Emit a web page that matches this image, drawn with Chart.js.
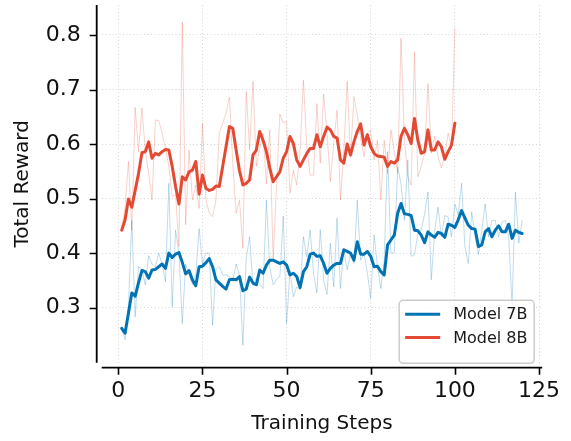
<!DOCTYPE html>
<html>
<head>
<meta charset="utf-8">
<script src="https://cdn.jsdelivr.net/npm/chart.js@4.4.1/dist/chart.umd.min.js"></script>
<style>
  html, body { margin: 0; padding: 0; background: #fff; }
  #wrap { width: 571px; height: 441px; }
</style>
</head>
<body>
<div id="wrap"><canvas id="rewardChart" width="571" height="441"></canvas></div>
<script>
// tick labels
const xTicks = [0, 25, 50, 75, 100, 125];
const yTicks = [0.3, 0.4, 0.5, 0.6, 0.7, 0.8];
const seriesNames = ['Model 7B', 'Model 8B'];

// Model 7B, steps 1..120 (raw reward and smoothed curve)
const raw7B = [
  0.262, 0.241, 0.30, 0.46, 0.283, 0.375, 0.37, 0.342, 0.395, 0.38,
  0.375, 0.40, 0.38, 0.347, 0.528, 0.302, 0.442, 0.40, 0.271, 0.38,
  0.36, 0.342, 0.36, 0.445, 0.38, 0.40, 0.40, 0.268, 0.37, 0.375,
  0.36, 0.36, 0.357, 0.348, 0.38, 0.36, 0.231, 0.39, 0.43, 0.34,
  0.355, 0.343, 0.335, 0.497, 0.375, 0.342, 0.352, 0.357, 0.468, 0.271,
  0.367, 0.32, 0.338, 0.332, 0.43, 0.393, 0.442, 0.363, 0.327, 0.443,
  0.351, 0.324, 0.418, 0.338, 0.464, 0.335, 0.408, 0.369, 0.399, 0.381,
  0.497, 0.387, 0.399, 0.363, 0.317, 0.433, 0.375, 0.335, 0.387, 0.586,
  0.40, 0.40, 0.558, 0.527, 0.46, 0.571, 0.394, 0.397, 0.436, 0.442,
  0.472, 0.512, 0.351, 0.442, 0.484, 0.43, 0.469, 0.466, 0.43, 0.49,
  0.47, 0.528, 0.41, 0.381, 0.476, 0.433, 0.397, 0.442, 0.49, 0.43,
  0.46, 0.46, 0.43, 0.457, 0.46, 0.43, 0.305, 0.512, 0.418, 0.46
];
const smooth7B = [
  0.262, 0.253, 0.29, 0.327, 0.321, 0.346, 0.368, 0.366, 0.354, 0.369,
  0.370, 0.375, 0.38, 0.372, 0.40, 0.392, 0.398, 0.401, 0.383, 0.362,
  0.368, 0.351, 0.340, 0.375, 0.376, 0.382, 0.39, 0.375, 0.351, 0.345,
  0.339, 0.334, 0.351, 0.352, 0.351, 0.357, 0.331, 0.334, 0.356, 0.345,
  0.342, 0.369, 0.363, 0.378, 0.387, 0.387, 0.384, 0.381, 0.384, 0.378,
  0.36, 0.363, 0.357, 0.337, 0.366, 0.375, 0.398, 0.40, 0.394, 0.395,
  0.381, 0.363, 0.372, 0.378, 0.381, 0.381, 0.406, 0.403, 0.40, 0.387,
  0.421, 0.398, 0.398, 0.403, 0.394, 0.375, 0.376, 0.366, 0.36, 0.415,
  0.424, 0.433, 0.473, 0.491, 0.472, 0.471, 0.469, 0.442, 0.441, 0.433,
  0.419, 0.439, 0.433, 0.429, 0.438, 0.436, 0.429, 0.453, 0.451, 0.447,
  0.461, 0.478, 0.464, 0.451, 0.445, 0.444, 0.412, 0.415, 0.439, 0.445,
  0.430, 0.442, 0.450, 0.439, 0.439, 0.453, 0.427, 0.442, 0.438, 0.436
];

// Model 8B, steps 1..100
const raw8B = [
  0.442, 0.485, 0.568, 0.442, 0.667, 0.586, 0.666, 0.589, 0.546, 0.497,
  0.644, 0.643, 0.62, 0.592, 0.559, 0.504, 0.507, 0.412, 0.824, 0.452,
  0.589, 0.497, 0.525, 0.482, 0.638, 0.498, 0.473, 0.467, 0.497, 0.62,
  0.638, 0.656, 0.686, 0.565, 0.473, 0.497, 0.409, 0.696, 0.589, 0.715,
  0.559, 0.592, 0.62, 0.527, 0.626, 0.387, 0.525, 0.655, 0.638, 0.641,
  0.51, 0.552, 0.525, 0.589, 0.717, 0.595, 0.543, 0.543, 0.674, 0.565,
  0.692, 0.62, 0.531, 0.601, 0.662, 0.497, 0.589, 0.715, 0.577, 0.687,
  0.653, 0.611, 0.577, 0.62, 0.626, 0.571, 0.607, 0.497, 0.607, 0.546,
  0.626, 0.586, 0.546, 0.794, 0.61, 0.54, 0.525, 0.769, 0.54, 0.559,
  0.583, 0.711, 0.583, 0.614, 0.577, 0.556, 0.577, 0.62, 0.592, 0.812
];
const smooth8B = [
  0.442, 0.461, 0.499, 0.484, 0.515, 0.546, 0.584, 0.586, 0.604, 0.574,
  0.583, 0.58, 0.586, 0.59, 0.589, 0.559, 0.522, 0.49, 0.54, 0.534,
  0.549, 0.552, 0.568, 0.508, 0.543, 0.519, 0.515, 0.517, 0.523, 0.522,
  0.559, 0.595, 0.632, 0.629, 0.589, 0.551, 0.525, 0.528, 0.534, 0.58,
  0.589, 0.623, 0.607, 0.586, 0.556, 0.531, 0.54, 0.549, 0.574, 0.586,
  0.614, 0.601, 0.571, 0.559, 0.571, 0.583, 0.592, 0.592, 0.617, 0.595,
  0.614, 0.631, 0.626, 0.614, 0.611, 0.571, 0.565, 0.60, 0.58, 0.604,
  0.623, 0.637, 0.598, 0.617, 0.595, 0.583, 0.578, 0.577, 0.576, 0.559,
  0.568, 0.565, 0.571, 0.614, 0.629, 0.617, 0.601, 0.647, 0.607, 0.583,
  0.586, 0.626, 0.589, 0.589, 0.604, 0.595, 0.572, 0.586, 0.598, 0.638
];

const blue = '#0173B2';
const red = '#E44A33';

const toPoints = arr => arr.map((v, i) => ({x: i + 1, y: v}));

// matplotlib style offset spines with outward ticks
const offsetSpines = {
  id: 'offsetSpines',
  afterDraw(chart) {
    const {ctx, chartArea: a, scales: {x, y}} = chart;
    const gap = 5, tl = 7;
    ctx.save();
    ctx.strokeStyle = '#000';
    ctx.lineWidth = 1.8;
    ctx.beginPath();
    ctx.moveTo(a.left - gap, a.top);
    ctx.lineTo(a.left - gap, a.bottom);
    ctx.moveTo(a.left, a.bottom + gap);
    ctx.lineTo(a.right, a.bottom + gap);
    ctx.stroke();
    ctx.lineWidth = 1.6;
    ctx.beginPath();
    y.ticks.forEach(t => {
      const p = Math.round(y.getPixelForValue(t.value)) + 0.5;
      ctx.moveTo(a.left - gap - tl, p);
      ctx.lineTo(a.left - gap, p);
    });
    x.ticks.forEach(t => {
      const p = Math.round(x.getPixelForValue(t.value)) + 0.5;
      ctx.moveTo(p, a.bottom + gap);
      ctx.lineTo(p, a.bottom + gap + tl);
    });
    ctx.stroke();
    ctx.restore();
  }
};

// legend box in the lower right corner of the plot
const cornerLegend = {
  id: 'cornerLegend',
  afterDraw(chart) {
    const {ctx, chartArea: a} = chart;
    const items = chart.data.datasets.filter(d => d.label);
    const w = 135, h = 63;
    const left = a.right - 8 - w, top = a.bottom + 0.6 - h;
    ctx.save();
    ctx.beginPath();
    ctx.roundRect(left, top, w, h, 4);
    ctx.fillStyle = 'rgba(255,255,255,0.85)';
    ctx.fill();
    ctx.strokeStyle = '#cccccc';
    ctx.lineWidth = 1.5;
    ctx.stroke();
    ctx.font = '16px "DejaVu Sans"';
    ctx.textBaseline = 'middle';
    ctx.fillStyle = '#1a1a1a';
    items.forEach((d, i) => {
      const cy = top + 14 + i * 23.3;
      ctx.strokeStyle = d.borderColor;
      ctx.lineWidth = 3;
      ctx.beginPath();
      ctx.moveTo(left + 6, cy);
      ctx.lineTo(left + 41, cy);
      ctx.stroke();
      ctx.fillText(d.label, left + 54, cy + 1);
    });
    ctx.restore();
  }
};

new Chart(document.getElementById('rewardChart'), {
  type: 'line',
  data: {
    datasets: [
      {label: seriesNames[0], data: toPoints(smooth7B), borderColor: blue, borderWidth: 3},
      {label: seriesNames[1], data: toPoints(smooth8B), borderColor: red, borderWidth: 3},
      {data: toPoints(raw7B), borderColor: 'rgba(1,115,178,0.25)', borderWidth: 1},
      {data: toPoints(raw8B), borderColor: 'rgba(228,74,51,0.25)', borderWidth: 1}
    ]
  },
  options: {
    responsive: false,
    animation: false,
    events: [],
    layout: {padding: {top: 5, right: 28.8, bottom: 0, left: 0}},
    elements: {
      point: {radius: 0},
      line: {tension: 0, borderCapStyle: 'round', borderJoinStyle: 'round'}
    },
    plugins: {
      legend: {display: false},
      tooltip: {enabled: false}
    },
    scales: {
      x: {
        type: 'linear',
        min: -4.95,
        max: 125.95,
        afterBuildTicks: s => { s.ticks = xTicks.map(v => ({value: v})); },
        afterFit: s => { s.height = 78.3; s.paddingLeft = 0; s.paddingRight = 0; },
        grid: {color: '#d4d4d4', lineWidth: 1, drawTicks: false},
        border: {display: false, dash: [1, 2.5]},
        ticks: {
          padding: 15,
          color: '#111',
          font: {family: 'DejaVu Sans', size: 22},
          maxRotation: 0,
          autoSkip: false
        },
        title: {
          display: true,
          text: 'Training Steps',
          color: '#111',
          font: {family: 'DejaVu Sans', size: 20},
          padding: {top: 0, bottom: 5}
        }
      },
      y: {
        type: 'linear',
        min: 0.199,
        max: 0.855,
        afterBuildTicks: s => { s.ticks = yTicks.map(v => ({value: v})); },
        afterFit: s => { s.width = 101.7; s.paddingTop = 0; s.paddingBottom = 0; },
        grid: {color: '#d4d4d4', lineWidth: 1, drawTicks: false},
        border: {display: false, dash: [1, 2.5]},
        ticks: {
          padding: 21,
          color: '#111',
          font: {family: 'DejaVu Sans', size: 22},
          callback: v => v.toFixed(1)
        },
        title: {
          display: true,
          text: 'Total Reward',
          color: '#111',
          font: {family: 'DejaVu Sans', size: 20},
          padding: {top: 11, bottom: 0}
        }
      }
    }
  },
  plugins: [offsetSpines, cornerLegend]
});
</script>
</body>
</html>
